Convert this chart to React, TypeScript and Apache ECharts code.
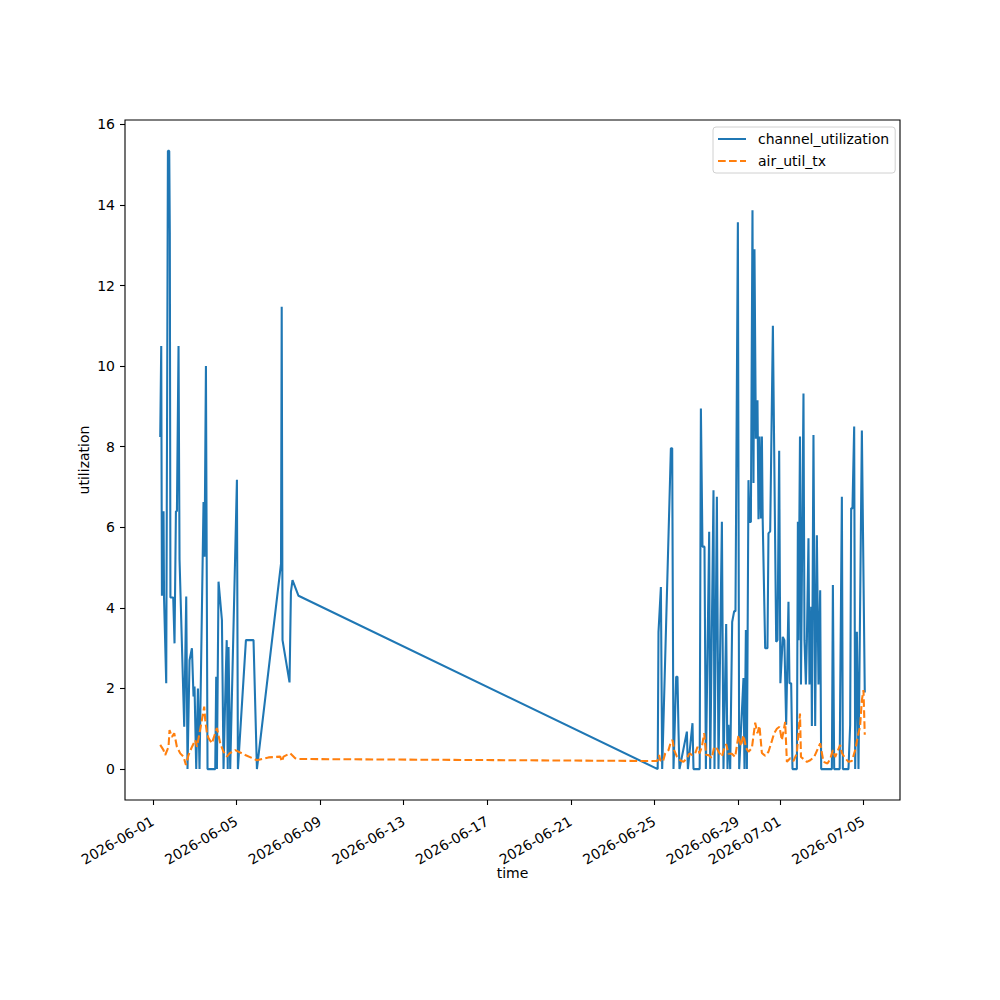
import { useRef, useEffect } from 'react';
import * as echarts from 'echarts';

// days since 2026-06-01 00:00
const chDays = [
  0.354, 0.402, 0.435, 0.512, 0.536, 0.641, 0.722, 0.785, 0.813, 0.842,
  0.976, 1.038, 1.105, 1.153, 1.230, 1.278, 1.502, 1.598, 1.660, 1.756,
  1.871, 1.947, 1.995, 2.077, 2.158, 2.234, 2.426, 2.474, 2.541, 2.569,
  2.617, 2.986, 3.033, 3.067, 3.144, 3.306, 3.383, 3.488, 3.536, 3.584,
  3.622, 3.703, 4.024, 4.072, 4.455, 4.818, 4.981, 6.134, 6.167, 6.206,
  6.541, 6.608, 6.684, 6.971,
  24.158, 24.196, 24.311, 24.373, 24.789, 24.852, 24.914, 25.043, 25.105, 25.153,
  25.201, 25.555, 25.603, 25.823, 25.871, 26.167, 26.225, 26.301, 26.397, 26.464,
  26.622, 26.670, 26.828, 26.876, 26.990, 27.067, 27.230, 27.306, 27.435, 27.498,
  27.545, 27.627, 27.722, 27.818, 27.880, 27.995, 28.057, 28.263, 28.311, 28.378,
  28.426, 28.502, 28.550, 28.617, 28.694, 28.742, 28.789, 28.856, 28.933, 28.981,
  29.029, 29.096, 29.144, 29.182, 29.301, 29.411, 29.459, 29.541, 29.670, 29.828,
  29.890, 29.971, 30.029, 30.144, 30.220, 30.306, 30.416, 30.464, 30.545, 30.608,
  30.818, 30.866, 30.895, 30.967, 31.014, 31.134, 31.182, 31.249, 31.297, 31.373,
  31.421, 31.502, 31.536, 31.612, 31.694, 31.775, 31.852, 31.933, 31.981, 32.493,
  32.541, 32.603, 32.866, 32.890, 32.971, 33.019, 33.287, 33.368, 33.416, 33.478,
  33.560, 33.608, 33.689, 33.766, 33.928, 34.067,
];
const chValues = [
  8.24, 10.5, 4.3, 6.4, 4.26, 2.13, 15.34, 15.34, 13.3, 4.26,
  4.26, 3.12, 6.4, 6.4, 10.5, 5.2, 1.05, 4.28, 0, 2.7,
  3.0, 1.8, 2.05, 0, 2.0, 0, 6.63, 5.27, 10.0, 10.0,
  0, 0, 2.29, 0, 4.65, 3.7, 0, 2.3, 3.2, 0,
  3.03, 0, 7.18, 0, 3.2, 3.2, 0, 5.1, 11.47, 3.2,
  2.15, 4.4, 4.69, 4.3,
  0, 3.4, 4.52, 0, 7.96, 7.96, 0, 2.29, 2.29, 0.97,
  0, 0.93, 0, 1.14, 0, 0, 8.95, 5.52, 5.52, 0,
  5.89, 0, 6.92, 0, 6.76, 0, 6.14, 0, 3.6, 0,
  1.1, 0, 3.65, 3.92, 3.92, 13.57, 0, 2.26, 0, 3.45,
  0, 7.17, 6.13, 6.13, 13.87, 7.1, 12.9, 8.2, 9.15, 6.2,
  8.25, 6.22, 8.25, 6.2, 3.0, 3.0, 5.85, 5.9, 11.0, 3.16,
  3.2, 7.9, 2.13, 3.28, 3.2, 1.1, 4.15, 2.13, 2.13, 0,
  0, 6.14, 3.2, 8.25, 2.1, 9.32, 3.2, 2.1, 3.2, 5.73,
  2.1, 4.03, 1.07, 8.29, 1.07, 5.8, 2.1, 4.44, 0, 0,
  4.57, 0, 0, 1.8, 6.76, 0, 0, 1.1, 6.47, 6.47,
  8.5, 0, 3.41, 0, 8.4, 1.9,
];

const airDays = [
  0.354, 0.512, 0.593, 0.751, 0.799, 0.914, 1.024, 1.153, 1.311, 1.469,
  1.584, 1.708, 1.871, 2.029, 2.110, 2.234, 2.349, 2.459, 2.507, 2.589,
  2.665, 2.828, 2.952, 3.067, 3.225, 3.383, 3.545, 3.670, 3.943, 4.421,
  4.981, 5.536, 6.096, 6.177, 6.254, 6.574, 6.813, 6.971,
  24.134, 24.230, 24.278, 24.407, 24.517, 24.675, 24.789, 24.866, 24.947, 25.077,
  25.234, 25.392, 25.555, 25.679, 25.794, 25.952, 26.062, 26.158, 26.273, 26.383,
  26.478, 26.589, 26.751, 26.861, 26.990, 27.115, 27.230, 27.340, 27.435, 27.545,
  27.708, 27.866, 28.024, 28.139, 28.263, 28.392, 28.502, 28.665, 28.823, 28.933,
  29.029, 29.144, 29.301, 29.459, 29.622, 29.732, 29.861, 29.986, 30.100, 30.258,
  30.340, 30.498, 30.656, 30.818, 30.967, 31.014, 31.134, 31.297, 31.455, 31.646,
  31.933, 32.091, 32.282, 32.411, 32.541, 32.651, 32.890, 32.971, 33.129, 33.287,
  33.450, 33.608, 33.766, 33.842, 33.928, 34.005, 34.067,
];
const airValues = [
  0.6, 0.47, 0.35, 0.55, 0.97, 0.8, 0.89, 0.55, 0.39, 0.31,
  0.1, 0.35, 0.55, 0.72, 0.55, 0.89, 1.22, 1.55, 1.22, 0.89,
  0.77, 0.64, 0.84, 1.02, 0.64, 0.43, 0.31, 0.39, 0.47, 0.35,
  0.22, 0.29, 0.31, 0.19, 0.31, 0.39, 0.27, 0.25,
  0.2, 0.35, 0.22, 0.18, 0.39, 0.47, 0.68, 0.72, 0.47, 0.31,
  0.22, 0.18, 0.27, 0.39, 0.35, 0.39, 0.55, 0.39, 0.55, 0.89,
  0.35, 0.35, 0.27, 0.55, 0.51, 0.39, 0.31, 0.51, 0.62, 0.38,
  0.38, 0.3, 0.84, 0.57, 0.84, 0.52, 0.43, 0.52, 1.15, 0.89,
  1.07, 0.4, 0.33, 0.43, 0.7, 0.89, 1.0, 1.05, 0.72, 1.17,
  0.18, 0.27, 0.2, 0.39, 1.38, 0.3, 0.25, 0.18, 0.22, 0.3,
  0.64, 0.18, 0.14, 0.25, 0.47, 0.3, 0.6, 0.4, 0.27, 0.18,
  0.2, 0.47, 0.89, 1.05, 1.71, 1.96, 0.85,
];

const tickDates = [
  '2026-06-01', '2026-06-05', '2026-06-09', '2026-06-13', '2026-06-17',
  '2026-06-21', '2026-06-25', '2026-06-29', '2026-07-01', '2026-07-05',
];
const yTicks = [0, 2, 4, 6, 8, 10, 12, 14, 16];

const DAY = 86400000;
const base = Date.UTC(2026, 5, 1);
const toTime = (d: number) => base + d * DAY;
const parseDay = (s: string) => {
  const [y, m, d] = s.split('-').map(Number);
  return Date.UTC(y, m - 1, d);
};
const pad2 = (n: number) => (n < 10 ? '0' + n : '' + n);
const fmtDay = (v: number) => {
  const d = new Date(v);
  return d.getUTCFullYear() + '-' + pad2(d.getUTCMonth() + 1) + '-' + pad2(d.getUTCDate());
};

const FONT = 'DejaVu Sans';

const App = () => {
  const chartRef = useRef<HTMLDivElement>(null);

  useEffect(() => {
    if (!chartRef.current) return;
    const chart = echarts.init(chartRef.current, null, { renderer: 'svg' });

    const allDays = chDays.concat(airDays);
    const dMin = Math.min(...allDays);
    const dMax = Math.max(...allDays);
    const dPad = (dMax - dMin) * 0.05;
    const allVals = chValues.concat(airValues);
    const vMin = Math.min(...allVals);
    const vMax = Math.max(...allVals);
    const vPad = (vMax - vMin) * 0.05;

    const tickTimes = tickDates.map(parseDay);

    chart.setOption({
      animation: false,
      textStyle: { fontFamily: FONT },
      grid: {
        left: 125, right: 100, top: 120, bottom: 200,
        show: true, borderColor: '#000', borderWidth: 1.1,
        containLabel: false, outerBoundsMode: 'none',
      },
      legend: {
        orient: 'vertical',
        left: 713, top: 127,
        padding: [5, 6, 5, 4],
        itemWidth: 28, itemHeight: 14, itemGap: 8,
        backgroundColor: '#fff',
        borderColor: '#d0d0d0', borderWidth: 1, borderRadius: 3,
        itemStyle: { opacity: 0 },
        textStyle: { fontFamily: FONT, fontSize: 14, color: '#000', padding: [0, 0, 0, 7] },
        data: ['channel_utilization', 'air_util_tx'],
      },
      xAxis: {
        type: 'value',
        min: toTime(dMin - dPad),
        max: toTime(dMax + dPad),
        name: 'time',
        nameLocation: 'middle',
        nameGap: 66,
        nameMoveOverlap: false,
        nameTextStyle: { fontFamily: FONT, fontSize: 14, color: '#000' },
        axisLine: { show: false, onZero: false },
        splitLine: { show: false },
        axisTick: {
          show: true, length: 5, customValues: tickTimes,
          lineStyle: { color: '#000', width: 1.1 },
        },
        axisLabel: {
          customValues: tickTimes,
          rotate: 30,
          margin: 20,
          fontFamily: FONT, fontSize: 14, color: '#000',
          hideOverlap: false,
          formatter: (v: number) => fmtDay(v),
        },
      },
      yAxis: {
        type: 'value',
        min: vMin - vPad,
        max: vMax + vPad,
        name: 'utilization',
        nameLocation: 'middle',
        nameGap: 34,
        nameMoveOverlap: false,
        nameTextStyle: { fontFamily: FONT, fontSize: 14, color: '#000' },
        axisLine: { show: false, onZero: false },
        splitLine: { show: false },
        axisTick: {
          show: true, length: 5, customValues: yTicks,
          lineStyle: { color: '#000', width: 1.1 },
        },
        axisLabel: {
          customValues: yTicks,
          margin: 10,
          fontFamily: FONT, fontSize: 14, color: '#000',
        },
      },
      series: [
        {
          name: 'channel_utilization',
          type: 'line',
          symbol: 'none',
          color: '#1f77b4',
          lineStyle: { width: 2.08, color: '#1f77b4' },
          data: chDays.map((d, i) => [toTime(d), chValues[i]]),
        },
        {
          name: 'air_util_tx',
          type: 'line',
          symbol: 'none',
          color: '#ff7f0e',
          lineStyle: { width: 2.08, color: '#ff7f0e', type: [7.7, 3.3] },
          data: airDays.map((d, i) => [toTime(d), airValues[i]]),
        },
      ],
    });

    return () => {
      chart.dispose();
    };
  }, []);

  return (
    <div
      ref={chartRef}
      style={{ position: 'absolute', left: 0, top: 0, width: 1000, height: 1000, background: '#fff' }}
    />
  );
};

export default App;
